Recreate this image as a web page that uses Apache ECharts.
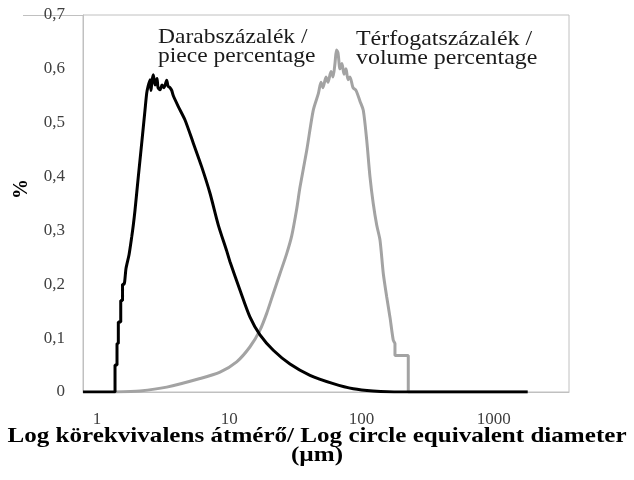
<!DOCTYPE html>
<html><head><meta charset="utf-8">
<script src="https://cdn.jsdelivr.net/npm/echarts@6/dist/echarts.min.js"></script>
<style>html,body{margin:0;padding:0;background:#fff}#c{width:634px;height:480px}</style>
</head><body><div id="c"></div>
<script>
// x tick labels (diameter, µm)
const xTicks = [1, 10, 100, 1000];
const yTicks = [0, 0.1, 0.2, 0.3, 0.4, 0.5, 0.6, 0.7];

// Darabszázalék / piece percentage
const pieceDiam = [0.784, 1.368, 1.368, 1.416, 1.416, 1.449, 1.449, 1.511, 1.511, 1.559, 1.559, 1.600, 1.657, 1.746, 1.829, 1.881, 1.938, 2.052, 2.177, 2.306, 2.375, 2.430, 2.515, 2.559, 2.604, 2.664, 2.745, 2.842, 2.892, 2.995, 3.099, 3.209, 3.364, 3.441, 3.563, 3.669, 3.774, 4.117, 4.626, 5.345, 6.186, 7.147, 8.258, 9.557, 10.12, 12.05, 14.34, 17.06, 21.51, 28.76, 40.74, 61.11, 86.57, 122, 195.1, 1801];
const pieceVal  = [0, 0, 0.05, 0.05, 0.09, 0.09, 0.13, 0.13, 0.17, 0.17, 0.20, 0.20, 0.23, 0.255, 0.288, 0.31, 0.338, 0.40, 0.462, 0.524, 0.555, 0.567, 0.58, 0.56, 0.578, 0.589, 0.57, 0.582, 0.565, 0.561, 0.57, 0.565, 0.579, 0.568, 0.565, 0.56, 0.55, 0.53, 0.505, 0.462, 0.418, 0.369, 0.31, 0.262, 0.242, 0.189, 0.139, 0.106, 0.0775, 0.052, 0.031, 0.0156, 0.006, 0.002, 0, 0];

// Térfogatszázalék / volume percentage
const volDiam = [1.368, 2.114, 3.364, 6.005, 8.506, 11.37, 14.34, 17.06, 19.17, 21.51, 24.17, 27.16, 29.63, 32.32, 34.22, 38.5, 43.1, 47.1, 49.33, 51.08, 53.82, 55.72, 58.71, 60.79, 62.94, 64.6, 66.32, 68.66, 71.09, 73.62, 76.22, 78.92, 81.71, 86.1, 90.72, 97.26, 103, 109.3, 115.7, 122.5, 130.1, 137.8, 145.9, 154.8, 163.9, 173.6, 178.8, 178.8, 225.4, 225.4, 1801];
const volVal  = [0, 0.002, 0.009, 0.025, 0.037, 0.056, 0.084, 0.115, 0.146, 0.183, 0.22, 0.257, 0.29, 0.34, 0.38, 0.449, 0.523, 0.554, 0.575, 0.565, 0.585, 0.575, 0.595, 0.585, 0.61, 0.635, 0.63, 0.60, 0.61, 0.59, 0.60, 0.58, 0.585, 0.565, 0.56, 0.54, 0.523, 0.468, 0.40, 0.35, 0.31, 0.282, 0.22, 0.177, 0.139, 0.096, 0.09, 0.068, 0.068, 0, 0];

const toPts = (d, v) => d.map((x, i) => [Math.log10(x), v[i]]);
const serif = '"Liberation Serif", "Times New Roman", serif';

const chart = echarts.init(document.getElementById('c'), null, {renderer: 'canvas'});
chart.setOption({
  animation: false,
  backgroundColor: '#fff',
  grid: {left: 83, right: 65, top: 15, bottom: 88, show: true, borderColor: '#c0c0c0', borderWidth: 1, containLabel: false},
  xAxis: {
    type: 'value', min: -0.106, max: 3.568,
    axisLine: {show: true, onZero: false, lineStyle: {color: '#c0c0c0', width: 1}},
    axisTick: {show: false}, splitLine: {show: false},
    axisLabel: {
      customValues: xTicks.map(t => Math.log10(t)),
      formatter: v => String(Math.round(Math.pow(10, v))),
      margin: 19, fontFamily: serif, fontSize: 17, color: '#404040'
    }
  },
  yAxis: {
    type: 'value', min: 0, max: 0.7, interval: 0.1,
    axisLine: {show: true, onZero: false, lineStyle: {color: '#c0c0c0', width: 1}},
    axisTick: {show: false}, splitLine: {show: false},
    axisLabel: {
      customValues: yTicks,
      formatter: v => (Math.round(v * 10) / 10).toString().replace('.', ','),
      margin: 18, fontFamily: serif, fontSize: 17, color: '#404040'
    }
  },
  series: [
    {type: 'line', name: 'Térfogatszázalék / volume percentage', data: toPts(volDiam, volVal), showSymbol: false,
     smooth: 0.25,
     lineStyle: {color: '#a3a3a3', width: 3}, itemStyle: {color: '#a3a3a3'}, z: 2},
    {type: 'line', name: 'Darabszázalék / piece percentage', data: toPts(pieceDiam, pieceVal), showSymbol: false,
     smooth: 0.25,
     lineStyle: {color: '#000', width: 3}, itemStyle: {color: '#000'}, z: 3}
  ],
  graphic: [
    {type: 'line', shape: {x1: 23, y1: 15.5, x2: 83, y2: 15.5}, style: {stroke: '#c0c0c0', lineWidth: 1}, z: 0},
    {type: 'text', x: 158, y: 28, scaleX: 1.12, style: {text: 'Darabszázalék /\npiece percentage', font: '21px ' + serif, fill: '#1a1a1a', lineHeight: 19, align: 'left', verticalAlign: 'top'}},
    {type: 'text', x: 356, y: 30, scaleX: 1.14, style: {text: 'Térfogatszázalék /\nvolume percentage', font: '21px ' + serif, fill: '#1a1a1a', lineHeight: 19, align: 'left', verticalAlign: 'top', backgroundColor: '#fff'}},
    {type: 'text', x: 22, y: 189, rotation: Math.PI / 2, style: {text: '%', font: 'bold 20px ' + serif, fill: '#000', align: 'center', verticalAlign: 'middle'}},
    {type: 'text', x: 317, y: 436, scaleX: 1.14, style: {text: 'Log körekvivalens átmérő/ Log circle equivalent diameter', font: 'bold 22px ' + serif, fill: '#000', align: 'center', verticalAlign: 'middle'}},
    {type: 'text', x: 317, y: 455, scaleX: 1.14, style: {text: '(µm)', font: 'bold 22px ' + serif, fill: '#000', align: 'center', verticalAlign: 'middle'}}
  ]
});
</script></body></html>
